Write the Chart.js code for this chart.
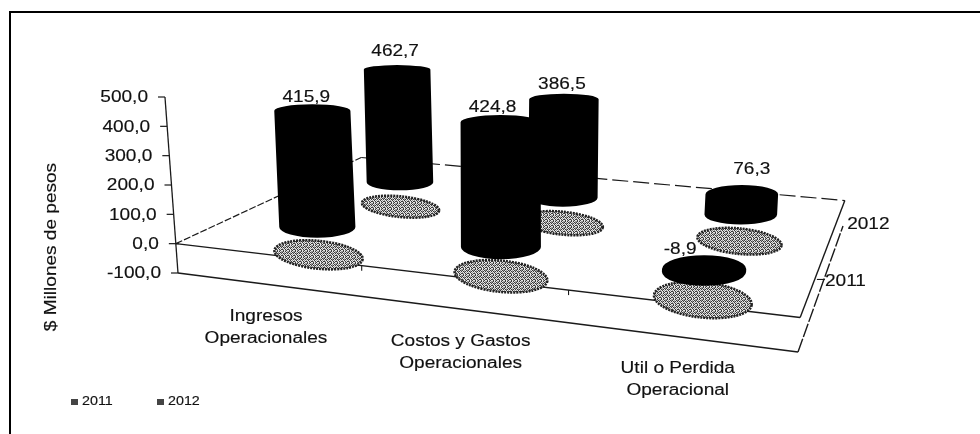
<!DOCTYPE html>
<html>
<head>
<meta charset="utf-8">
<style>
  html, body { margin: 0; background: #fff; }
  canvas { display: block; }
</style>
<script src="https://cdn.jsdelivr.net/npm/chart.js@4"></script>
</head>
<body>
<canvas id="chart" width="980" height="434"></canvas>
<script>
// ─── Data ─────────────────────────────────────────────────────────────────────
const categories = [
  ['Ingresos', 'Operacionales'],
  ['Costos y Gastos', 'Operacionales'],
  ['Util o Perdida', 'Operacional']
];
const seriesNames = ['2011', '2012'];
const values2011 = [415.9, 424.8, -8.9];
const values2012 = [462.7, 386.5, 76.3];
const axisTitle = '$ Millones de pesos';

// ─── Scene ────────────────────────────────────────────────────────────────────
// floor of the 3D box (at the -100 level) as it lands on the page
const FLOOR = { nearLeft: [178, 273], nearRight: [798, 352], farRight: [843, 226], farLeft: [362, 180] };
const BODY_RX = 40;
const SHADOW_RX = 46.6;
const TEXT_STRETCH = 1.19;
const INK = '#111';
// nudges of the value labels from the top of each cylinder
const labelNudge = [
  [[-6, 0], [-8, 0], [-24, 1]],
  [[-2, -6], [-2, -2], [10, -8]]
];
const seriesLabelNudge = [[13, -31], [13, -26]];

const fmt = v => v.toFixed(1).replace('.', ',');

function makeCamera(f) {
  const [x0, y0] = f.nearLeft, [x1, y1] = f.nearRight, [x2, y2] = f.farRight, [x3, y3] = f.farLeft;
  const dx1 = x1 - x2, dx2 = x3 - x2, sx = x0 - x1 + x2 - x3;
  const dy1 = y1 - y2, dy2 = y3 - y2, sy = y0 - y1 + y2 - y3;
  const den = dx1 * dy2 - dx2 * dy1;
  const g = (sx * dy2 - dx2 * sy) / den;
  const h = (dx1 * sy - sx * dy1) / den;
  const a = x1 - x0 + g * x1, b = x3 - x0 + h * x3;
  const d = y1 - y0 + g * y1, e = y3 - y0 + h * y3;
  return (u, w) => {
    const q = g * u + h * w + 1;
    return { x: (a * u + b * w + x0) / q, y: (d * u + e * w + y0) / q, s: 1 / q };
  };
}
const floorAt = makeCamera(FLOOR);

// floor position + height from the value scale, shrunk with depth
function project(chart, u, w, v) {
  const y = chart.scales.y;
  const p = floorAt(u, w);
  const rise = (y.getPixelForValue(-100) - y.getPixelForValue(v)) * p.s;
  const lean = -0.074 + (p.x - FLOOR.nearLeft[0]) * 0.00022;
  return { x: p.x + rise * lean, y: p.y - rise, s: p.s };
}
const catU = (chart, i) => {
  const x = chart.scales.x;
  return (x.getPixelForValue(i) - x.left) / x.width;
};
const seriesW = s => (s + 0.5) / seriesNames.length;
const pitch = py => Math.max(0.13, 0.13 + (py - 70) * 0.001);

function stretchText(ctx, text, x, y, size, align) {
  ctx.save();
  ctx.translate(x, y);
  ctx.scale(TEXT_STRETCH, 1);
  ctx.font = `${size}px "Liberation Sans"`;
  ctx.textAlign = align || 'center';
  ctx.textBaseline = 'middle';
  ctx.fillStyle = INK;
  ctx.strokeStyle = INK;
  ctx.lineWidth = 0.15;
  ctx.fillText(text, 0, 0);
  ctx.strokeText(text, 0, 0);
  ctx.restore();
}

// scanner-like dither for the floor shadows
function ditherPattern(ctx) {
  const rows = [
    '#.+.#+',
    '.#+#.#',
    '+.#.+.',
    '#+.#.#',
    '.#.+#.',
    '+#.#.+'
  ];
  const tones = { '#': '#3a3a3a', '+': '#9a9a9a', '.': '#e8e8e8' };
  const c = document.createElement('canvas');
  c.width = c.height = rows.length;
  const g = c.getContext('2d');
  rows.forEach((row, py) => [...row].forEach((ch, px) => {
    g.fillStyle = tones[ch];
    g.fillRect(px, py, 1, 1);
  }));
  return ctx.createPattern(c, 'repeat');
}

function line(ctx, a, b, width, dash) {
  ctx.save();
  ctx.lineWidth = width || 1.3;
  ctx.strokeStyle = '#1a1a1a';
  ctx.setLineDash(dash || []);
  ctx.beginPath();
  ctx.moveTo(a.x, a.y);
  ctx.lineTo(b.x, b.y);
  ctx.stroke();
  ctx.restore();
}

function drawBox(chart, ctx) {
  const yScale = chart.scales.y;
  const nl = project(chart, 0, 0, 0), nr = project(chart, 1, 0, 0);
  const fr = project(chart, 1, 1, 0), fl = project(chart, 0, 1, 0);
  line(ctx, nl, fl, 1.2, [7, 2]);
  line(ctx, fl, fr, 1.2, [16, 5]);
  line(ctx, fr, nr, 1.4);
  line(ctx, nl, nr, 1.4);

  const bl = project(chart, 0, 0, -100), br = project(chart, 1, 0, -100), bf = project(chart, 1, 1, -100);
  line(ctx, bl, br, 1.5);
  line(ctx, br, bf, 1.4, [14, 2]);

  // value axis with its ticks
  line(ctx, project(chart, 0, 0, yScale.max), bl, 1.3);
  yScale.ticks.forEach(t => {
    const p = project(chart, 0, 0, t.value);
    line(ctx, { x: p.x - 7, y: p.y }, { x: p.x + (t.value === 0 ? 3 : 0), y: p.y }, 1.2);
    stretchText(ctx, t.label, p.x - 17, p.y + 1, 16, 'right');
  });

  // ticks between the categories and between the series
  categories.forEach((_, i) => {
    if (i === 0) return;
    const p = project(chart, i / categories.length, 0, 0);
    line(ctx, p, { x: p.x, y: p.y + 5 }, 1.1);
  });
  const mid = project(chart, 1, 0.5, -100);
  line(ctx, { x: mid.x - 7, y: mid.y }, { x: mid.x + 1, y: mid.y }, 1.1);
}

function drawShadow(chart, ctx, u, w, fill) {
  const p = floorAt(u, w);
  const rx = SHADOW_RX * p.s, ry = rx * pitch(p.y);
  ctx.save();
  ctx.beginPath();
  ctx.ellipse(p.x, p.y, rx, ry, 0.1, 0, Math.PI * 2);
  ctx.fillStyle = fill;
  ctx.fill();
  ctx.lineWidth = 2.5;
  ctx.strokeStyle = '#222';
  ctx.setLineDash([2, 1]);
  ctx.stroke();
  ctx.restore();
}

function drawCylinder(chart, ctx, u, w, v) {
  const t = project(chart, u, w, Math.max(v, 0));
  const b = project(chart, u, w, Math.min(v, 0));
  const rx = BODY_RX * t.s;
  ctx.beginPath();
  ctx.ellipse(t.x, t.y, rx, rx * pitch(t.y), 0, Math.PI, Math.PI * 2);
  ctx.lineTo(b.x + rx, b.y);
  ctx.ellipse(b.x, b.y, rx, rx * pitch(b.y), 0, 0, Math.PI);
  ctx.closePath();
  ctx.fillStyle = '#000';
  ctx.fill();
  return { x: t.x, y: t.y - rx * pitch(t.y) };
}

const scene3d = {
  id: 'scene3d',
  afterDatasetsDraw(chart) {
    const { ctx } = chart;
    const sets = chart.data.datasets;
    const dither = ditherPattern(ctx);
    ctx.save();

    // page frame
    ctx.fillStyle = '#000';
    ctx.fillRect(9, 11, 971, 2);
    ctx.fillRect(9, 11, 2, 423);

    drawBox(chart, ctx);

    // shadows first, then the far row, then the near row
    sets.forEach((set, s) => set.data.forEach((_, i) => drawShadow(chart, ctx, catU(chart, i), seriesW(s), dither)));
    for (let s = sets.length - 1; s >= 0; s--) {
      sets[s].data.forEach((v, i) => {
        const top = drawCylinder(chart, ctx, catU(chart, i), seriesW(s), v);
        const [nx, ny] = labelNudge[s][i];
        stretchText(ctx, fmt(v), top.x + nx, top.y - 7 + ny, 16);
      });
    }

    // category labels under the front edge
    categories.forEach((lines, i) => {
      const p = floorAt(catU(chart, i), 0);
      lines.forEach((txt, n) => stretchText(ctx, txt, p.x - 2, p.y + 32 + n * 22, 16));
    });

    // series labels on the depth axis
    seriesNames.forEach((name, s) => {
      const p = floorAt(1, seriesW(s));
      stretchText(ctx, name, p.x + seriesLabelNudge[s][0], p.y + seriesLabelNudge[s][1], 16, 'left');
    });

    // axis title
    ctx.save();
    ctx.translate(52, 247);
    ctx.rotate(-Math.PI / 2);
    stretchText(ctx, axisTitle, 0, 0, 16);
    ctx.restore();

    // legend
    seriesNames.forEach((name, s) => {
      const lx = s === 0 ? 71 : 157;
      ctx.fillStyle = '#444';
      ctx.fillRect(lx, 399, 7, 6);
      stretchText(ctx, name, lx + 11, 402, 12, 'left');
    });
    ctx.restore();
  }
};

// ─── Chart ────────────────────────────────────────────────────────────────────
new Chart(document.getElementById('chart').getContext('2d'), {
  type: 'bar',
  data: {
    labels: categories,
    datasets: [
      { label: seriesNames[0], data: values2011, backgroundColor: 'transparent' },
      { label: seriesNames[1], data: values2012, backgroundColor: 'transparent' }
    ]
  },
  options: {
    responsive: false,
    animation: false,
    layout: { padding: { left: 178, right: 182, top: 97, bottom: 161 } },
    plugins: { legend: { display: false }, tooltip: { enabled: false } },
    scales: {
      x: { display: false },
      y: { display: false, min: -100, max: 500, ticks: { stepSize: 100, callback: v => fmt(v) } }
    }
  },
  plugins: [scene3d]
});
</script>
</body>
</html>
